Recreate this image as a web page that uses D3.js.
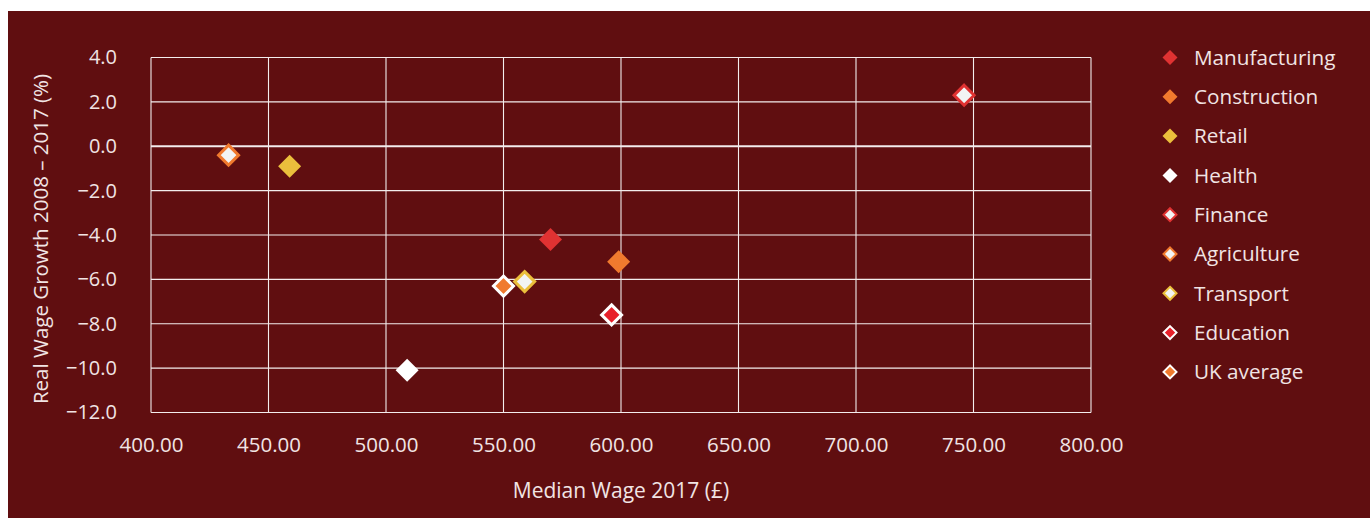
<!DOCTYPE html>
<html><head><meta charset="utf-8">
<script src="https://cdn.jsdelivr.net/npm/d3@7"></script>
<style>
html,body{margin:0;padding:0;background:#fff;}
svg{display:block;}
text{font-family:"Open Sans",sans-serif;fill:#f1e4e4;}
</style></head>
<body><svg id="c" width="1370" height="518"></svg>
<script>
const series = ["Manufacturing","Construction","Retail","Health","Finance","Agriculture","Transport","Education","UK average"];
const medianWage = [570, 599, 459, 509, 746, 433, 559, 596, 550];
const wageGrowth = [-4.2, -5.2, -0.9, -10.1, 2.3, -0.4, -6.1, -7.6, -6.3];
const fillColors = ["#e03232","#f07a2e","#ebbf3c","#ffffff","#f2f4f4","#f2f4f4","#f2f4f4","#e8202a","#f07a2e"];
const strokeColors = ["none","none","none","none","#e03232","#f07a2e","#ebbf3c","#ffffff","#ffffff"];
const xTicks = [400,450,500,550,600,650,700,750,800];
const yTicks = [4,2,0,-2,-4,-6,-8,-10,-12];

const svg = d3.select("#c");
svg.append("rect").attr("x",8).attr("y",11).attr("width",1362).attr("height",507).attr("fill","#600e10");

const L=151, R=1091, T=57.5, B=412.5;
const x = d3.scaleLinear().domain([400,800]).range([L,R]);
const y = d3.scaleLinear().domain([-12,4]).range([B,T]);

const g = svg.append("g");
g.selectAll("line.vg").data(xTicks).join("line")
  .attr("x1",d=>x(d)).attr("x2",d=>x(d)).attr("y1",T).attr("y2",B)
  .attr("stroke","#f3eded").attr("stroke-width",1.1);
g.selectAll("line.hg").data(yTicks).join("line")
  .attr("x1",L).attr("x2",R).attr("y1",d=>y(d)).attr("y2",d=>y(d))
  .attr("stroke","#f3eded").attr("stroke-width",d=>d===0?2:1.1);

const xAxis = svg.append("g").attr("transform",`translate(0,${B})`)
  .call(d3.axisBottom(x).tickValues(xTicks).tickFormat(d3.format(".2f")).tickSize(0).tickPadding(25));
xAxis.select(".domain").remove();
xAxis.selectAll("text").attr("font-size",20.5).style("font-family","Open Sans").attr("fill","#f1e4e4");

const yAxis = svg.append("g").attr("transform",`translate(${L},0)`)
  .call(d3.axisLeft(y).tickValues(yTicks).tickFormat(d3.format(".1f")).tickSize(0).tickPadding(34));
yAxis.select(".domain").remove();
yAxis.selectAll("text").attr("font-size",20).style("font-family","Open Sans").attr("fill","#f1e4e4");

svg.append("text").attr("x",(L+R)/2).attr("y",498).attr("text-anchor","middle")
  .attr("font-size",21).text("Median Wage 2017 (£)");
svg.append("text").attr("transform",`translate(48,${(T+B)/2 + 4}) rotate(-90)`).attr("text-anchor","middle")
  .attr("font-size",20.5).text("Real Wage Growth 2008 – 2017 (%)");

function diamond(sel, s){
  sel.attr("d",`M0,${-s}L${s},0L0,${s}L${-s},0Z`);
}
const idx = d3.range(series.length);
g.selectAll("path.pt").data(idx).join("path")
  .attr("transform",i=>`translate(${x(medianWage[i])},${y(wageGrowth[i])})`)
  .each(function(i){ diamond(d3.select(this), strokeColors[i]==="none"?11.5:10); })
  .attr("fill",i=>fillColors[i])
  .attr("stroke",i=>strokeColors[i]==="none"?null:strokeColors[i])
  .attr("stroke-width",3);

const lg = svg.append("g");
const ly0 = 57.5, lstep = 39.3;
lg.selectAll("path").data(idx).join("path")
  .attr("transform",i=>`translate(1170,${ly0+i*lstep})`)
  .each(function(i){ diamond(d3.select(this), strokeColors[i]==="none"?7.5:6.5); })
  .attr("fill",i=>fillColors[i])
  .attr("stroke",i=>strokeColors[i]==="none"?null:strokeColors[i])
  .attr("stroke-width",2);
lg.selectAll("text").data(idx).join("text")
  .attr("x",1194).attr("y",i=>ly0+i*lstep).attr("dy","0.35em")
  .attr("font-size",20.7).text(i=>series[i]);
</script></body></html>
